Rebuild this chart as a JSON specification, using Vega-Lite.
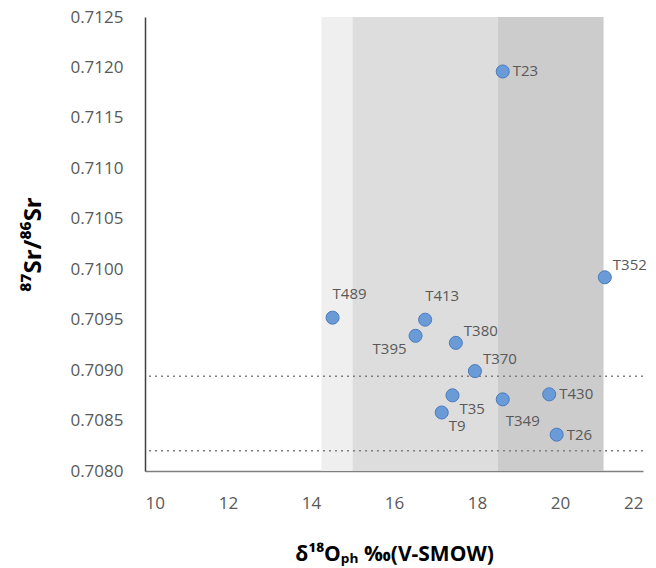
{
  "$schema": "https://vega.github.io/schema/vega-lite/v6.json",
  "width": 498,
  "height": 454,
  "autosize": "none",
  "padding": {"left": 145, "top": 17, "right": 13, "bottom": 97},
  "background": "white",
  "config": {"view": {"stroke": null}, "font": "Open Sans"},
  "datasets": {
    "pts": [
      {"id": "T23", "d18O": 18.62, "sr": 0.71196, "pos": "r"},
      {"id": "T352", "d18O": 21.08, "sr": 0.70992, "pos": "ur"},
      {"id": "T489", "d18O": 14.52, "sr": 0.70952, "pos": "u"},
      {"id": "T413", "d18O": 16.75, "sr": 0.70950, "pos": "u"},
      {"id": "T395", "d18O": 16.52, "sr": 0.70934, "pos": "dl"},
      {"id": "T380", "d18O": 17.49, "sr": 0.70927, "pos": "ur"},
      {"id": "T370", "d18O": 17.95, "sr": 0.70899, "pos": "ur"},
      {"id": "T35", "d18O": 17.41, "sr": 0.70875, "pos": "dr"},
      {"id": "T9", "d18O": 17.15, "sr": 0.70858, "pos": "dr"},
      {"id": "T349", "d18O": 18.62, "sr": 0.70871, "pos": "d"},
      {"id": "T430", "d18O": 19.74, "sr": 0.70876, "pos": "r"},
      {"id": "T26", "d18O": 19.92, "sr": 0.70836, "pos": "r"}
    ],
    "bands": [
      {"x1": 14.25, "x2": 15.0, "c": "a"},
      {"x1": 15.0, "x2": 18.5, "c": "b"},
      {"x1": 18.5, "x2": 21.05, "c": "c"}
    ],
    "lines": [
      {"sr": 0.70894},
      {"sr": 0.70820}
    ]
  },
  "encoding": {
    "x": {
      "type": "quantitative",
      "scale": {"domain": [10, 22], "nice": false, "zero": false}
    },
    "y": {
      "type": "quantitative",
      "scale": {"domain": [0.708, 0.7125], "nice": false, "zero": false}
    }
  },
  "layer": [
    {
      "data": {"name": "bands"},
      "mark": {"type": "rect"},
      "encoding": {
        "x": {"field": "x1", "type": "quantitative",
          "axis": {
            "title": "δ¹⁸Oₚₕ ‰(V-SMOW)",
            "values": [10, 12, 14, 16, 18, 20, 22],
            "grid": false, "ticks": false,
            "domainColor": "#7f7f7f", "domainWidth": 1.5,
            "labelFont": "Open Sans", "labelFontSize": 17, "labelColor": "#595959",
            "labelPadding": 24,
            "titleFont": "Open Sans", "titleFontSize": 21, "titleFontWeight": "bold",
            "titleColor": "#000000", "titlePadding": 32
          }
        },
        "x2": {"field": "x2"},
        "color": {
          "field": "c", "type": "nominal", "legend": null,
          "scale": {"domain": ["a", "b", "c"], "range": ["#efefef", "#dddddd", "#cccccc"]}
        }
      }
    },
    {
      "data": {"name": "lines"},
      "mark": {"type": "rule", "color": "#7f7f7f", "strokeDash": [2, 4], "strokeWidth": 1.5},
      "encoding": {
        "y": {"field": "sr", "type": "quantitative",
          "axis": {
            "title": "⁸⁷Sr/⁸⁶Sr",
            "values": [0.708, 0.7085, 0.709, 0.7095, 0.71, 0.7105, 0.711, 0.7115, 0.712, 0.7125],
            "format": ".4f",
            "grid": false, "ticks": false,
            "domainColor": "#404040", "domainWidth": 1.5,
            "labelFont": "Open Sans", "labelFontSize": 17, "labelColor": "#595959",
            "labelPadding": 22,
            "titleFont": "Open Sans", "titleFontSize": 24, "titleFontWeight": "bold",
            "titleColor": "#000000", "titlePadding": 24
          }
        }
      }
    },
    {
      "data": {"name": "pts"},
      "mark": {"type": "circle", "size": 170, "color": "#6b9bd6", "opacity": 1, "stroke": "#4a7bbf", "strokeWidth": 1},
      "encoding": {
        "x": {"field": "d18O", "type": "quantitative"},
        "y": {"field": "sr", "type": "quantitative"}
      }
    },
    {
      "data": {"name": "pts"},
      "transform": [{"filter": "datum.pos == 'r'"}],
      "mark": {"type": "text", "align": "left", "baseline": "middle", "dx": 10, "dy": 0, "fontSize": 15, "color": "#595959", "font": "Open Sans"},
      "encoding": {
        "x": {"field": "d18O", "type": "quantitative"},
        "y": {"field": "sr", "type": "quantitative"},
        "text": {"field": "id"}
      }
    },
    {
      "data": {"name": "pts"},
      "transform": [{"filter": "datum.pos == 'ur'"}],
      "mark": {"type": "text", "align": "left", "baseline": "middle", "dx": 8, "dy": -12, "fontSize": 15, "color": "#595959", "font": "Open Sans"},
      "encoding": {
        "x": {"field": "d18O", "type": "quantitative"},
        "y": {"field": "sr", "type": "quantitative"},
        "text": {"field": "id"}
      }
    },
    {
      "data": {"name": "pts"},
      "transform": [{"filter": "datum.pos == 'u'"}],
      "mark": {"type": "text", "align": "left", "baseline": "middle", "dx": 0, "dy": -24, "fontSize": 15, "color": "#595959", "font": "Open Sans"},
      "encoding": {
        "x": {"field": "d18O", "type": "quantitative"},
        "y": {"field": "sr", "type": "quantitative"},
        "text": {"field": "id"}
      }
    },
    {
      "data": {"name": "pts"},
      "transform": [{"filter": "datum.pos == 'dl'"}],
      "mark": {"type": "text", "align": "right", "baseline": "middle", "dx": -9, "dy": 13, "fontSize": 15, "color": "#595959", "font": "Open Sans"},
      "encoding": {
        "x": {"field": "d18O", "type": "quantitative"},
        "y": {"field": "sr", "type": "quantitative"},
        "text": {"field": "id"}
      }
    },
    {
      "data": {"name": "pts"},
      "transform": [{"filter": "datum.pos == 'dr'"}],
      "mark": {"type": "text", "align": "left", "baseline": "middle", "dx": 7, "dy": 14, "fontSize": 15, "color": "#595959", "font": "Open Sans"},
      "encoding": {
        "x": {"field": "d18O", "type": "quantitative"},
        "y": {"field": "sr", "type": "quantitative"},
        "text": {"field": "id"}
      }
    },
    {
      "data": {"name": "pts"},
      "transform": [{"filter": "datum.pos == 'd'"}],
      "mark": {"type": "text", "align": "left", "baseline": "middle", "dx": 3, "dy": 22, "fontSize": 15, "color": "#595959", "font": "Open Sans"},
      "encoding": {
        "x": {"field": "d18O", "type": "quantitative"},
        "y": {"field": "sr", "type": "quantitative"},
        "text": {"field": "id"}
      }
    }
  ]
}
